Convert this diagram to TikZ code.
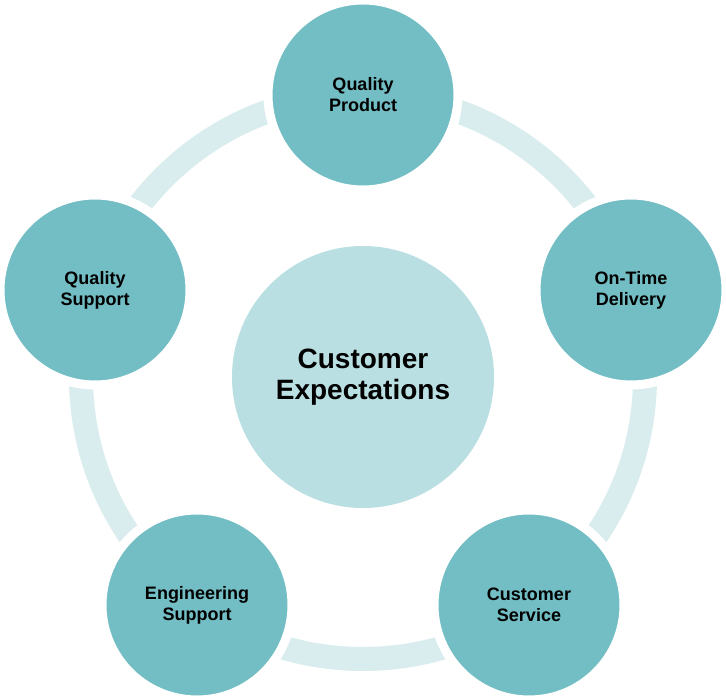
\documentclass[tikz,border=0pt]{standalone}
\usepackage{fontspec}
\setmainfont{Liberation Sans}
\definecolor{outerc}{HTML}{72BEC4}
\definecolor{centerc}{HTML}{B9DFE3}
\definecolor{ringc}{HTML}{D9EDEF}
\begin{document}
\begin{tikzpicture}[x=1pt,y=-1pt,
  outer/.style={circle,fill=outerc,draw=white,line width=9pt,minimum size=190pt,inner sep=0pt,align=center,font=\fontsize{18}{21}\selectfont\bfseries},
  ]
\useasboundingbox (0,0) rectangle (726,700);
\fill[white] (0,0) rectangle (726,700);
\draw[ringc,line width=24pt] (363,377) circle (282);
\node[circle,fill=centerc,minimum size=262pt,inner sep=0pt,align=center,font=\fontsize{28}{31}\selectfont\bfseries] (c) at (363,377) {Customer\\Expectations};
\node[outer] (qp) at (363,95) {Quality\\Product};
\node[outer] (otd) at (631,290) {On-Time\\Delivery};
\node[outer] (cs) at (529,605) {Customer\\Service};
\node[outer] (es) at (197,605) {Engineering\\Support};
\node[outer] (qs) at (95,290) {Quality\\Support};
\end{tikzpicture}
\end{document}
